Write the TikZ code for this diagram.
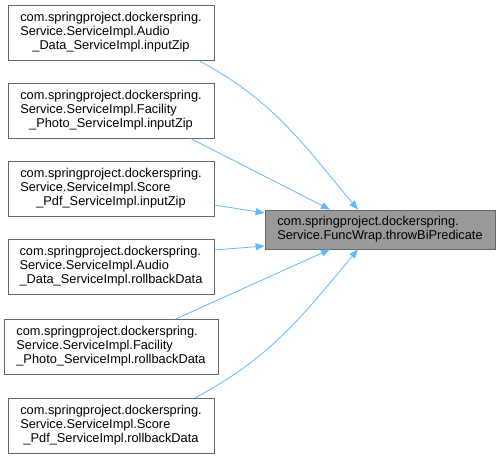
\documentclass[tikz,border=0pt]{standalone}
\usepackage{fontspec}
\setmainfont{Liberation Sans}
\usetikzlibrary{arrows.meta}
\definecolor{edgeblue}{HTML}{63B8FF}
\definecolor{boxline}{HTML}{666666}
\definecolor{boxgray}{HTML}{999999}
\newcommand{\caller}[2]{\begin{tabular}{@{}l@{}}com.springproject.dockerspring.\\Service.ServiceImpl.#1\\\multicolumn{1}{@{}c@{}}{#2}\end{tabular}}
\begin{document}
\begin{tikzpicture}[x=1pt, y=-1pt,
    fn/.style={draw=boxline, fill=white, line width=0.8pt, minimum height=55pt, inner sep=0pt,
      font=\fontsize{12.8}{14}\selectfont, text=black},
    tg/.style={fn, fill=boxgray, minimum height=39pt, minimum width=230pt},
    edge/.style={draw=edgeblue, line width=0.8pt, -{Triangle[length=9pt, width=7pt, fill=edgeblue]}}]
  \useasboundingbox (0,0) rectangle (501,459);
  % callers
  \node[fn, minimum width=206pt] (c1) at (111,32.5) {\caller{Audio}{\_Data\_ServiceImpl.inputZip}};
  \node[fn, minimum width=206pt] (c2) at (111,110.5) {\caller{Facility}{\_Photo\_ServiceImpl.inputZip}};
  \node[fn, minimum width=206pt] (c3) at (111,188.5) {\caller{Score}{\_Pdf\_ServiceImpl.inputZip}};
  \node[fn, minimum width=206pt] (c4) at (111,266.5) {\caller{Audio}{\_Data\_ServiceImpl.rollbackData}};
  \node[fn, minimum width=214pt] (c5) at (111,347) {\caller{Facility}{\_Photo\_ServiceImpl.rollbackData}};
  \node[fn, minimum width=206pt] (c6) at (111,425.5) {\caller{Score}{\_Pdf\_ServiceImpl.rollbackData}};
  % callee
  \node[tg] (tgt) at (380,229.5) {\begin{tabular}{@{}l@{}}com.springproject.dockerspring.\\Service.FuncWrap.throwBiPredicate\end{tabular}};
  % calls
  \draw[edge] ([xshift=-16pt]c1.south east) to[out=-28, in=130] ([xshift=-22pt]tgt.north);
  \draw[edge] ([xshift=-24pt]c2.south east) -- ([xshift=-50pt]tgt.north);
  \draw[edge] ([yshift=-16.5pt]c3.east) -- ([yshift=16.5pt]tgt.west);
  \draw[edge] ([yshift=16.5pt]c4.east) -- ([yshift=-16.5pt]tgt.west);
  \draw[edge] ([xshift=-43pt]c5.north east) -- ([xshift=-50pt]tgt.south);
  \draw[edge] ([xshift=-19pt]c6.north east) to[out=28, in=-130] ([xshift=-22pt]tgt.south);
\end{tikzpicture}
\end{document}
